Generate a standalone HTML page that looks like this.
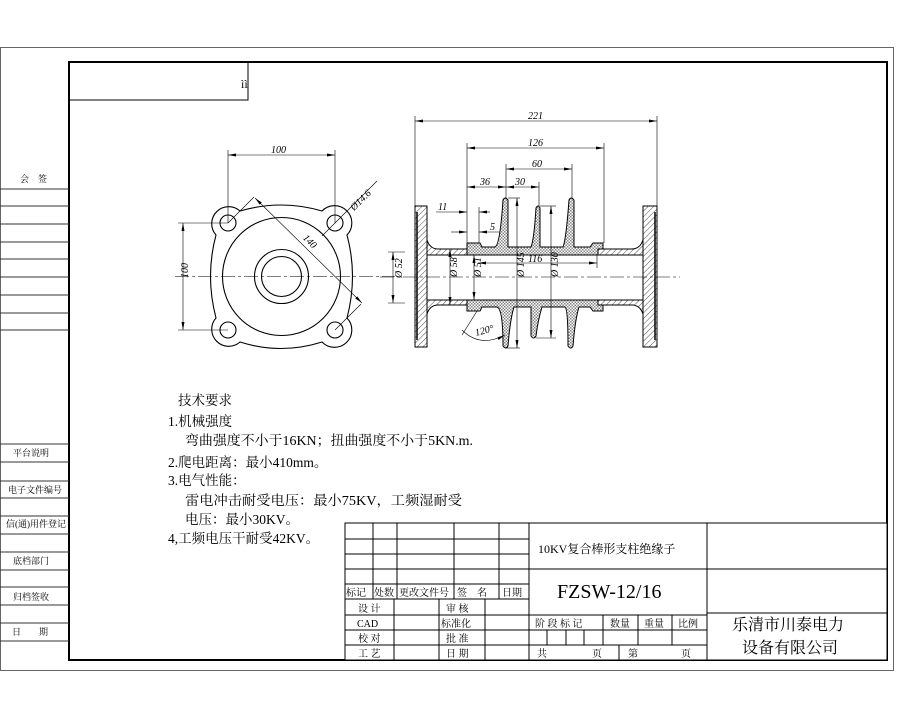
<!DOCTYPE html>
<html><head><meta charset="utf-8"><style>
html,body{margin:0;padding:0;background:#fff;}
svg{display:block;}
text{font-family:"Liberation Serif","Noto Serif CJK SC",serif;fill:#000;}
</style></head><body>
<svg width="900" height="720" viewBox="0 0 900 720" xmlns="http://www.w3.org/2000/svg">
<defs>
<pattern id="h" width="4" height="4" patternUnits="userSpaceOnUse" patternTransform="rotate(45)">
<rect width="4" height="4" fill="#fff"/><line x1="0" y1="0" x2="0" y2="4" stroke="#000" stroke-width="0.7"/></pattern>
<pattern id="x" width="3" height="3" patternUnits="userSpaceOnUse">
<rect width="3" height="3" fill="#fff"/><rect width="1.5" height="1.5" fill="#888"/><rect x="1.5" y="1.5" width="1.5" height="1.5" fill="#888"/></pattern>
<marker id="a" markerWidth="8" markerHeight="6" refX="8" refY="3" orient="auto-start-reverse" markerUnits="userSpaceOnUse"><path d="M0,1.5 L8,3 L0,4.5Z" fill="#000"/></marker>
</defs>
<rect x="0" y="0" width="900" height="720" fill="#fff"/>
<rect x="0.5" y="47.5" width="893" height="623" fill="none" stroke="#666" stroke-width="1"/>
<rect x="69" y="62" width="818" height="598" fill="none" stroke="#000" stroke-width="2"/>
<polyline points="69,100 248,100 248,62" fill="none" stroke="#000" stroke-width="1"/>
<text x="241" y="88" font-size="12">ìì</text>
<g stroke="#333" stroke-width="1">
<line x1="0" y1="189" x2="69" y2="189"/><line x1="0" y1="206" x2="69" y2="206"/>
<line x1="0" y1="224" x2="69" y2="224"/><line x1="0" y1="242" x2="69" y2="242"/>
<line x1="0" y1="259" x2="69" y2="259"/><line x1="0" y1="277" x2="69" y2="277"/>
<line x1="0" y1="295" x2="69" y2="295"/><line x1="0" y1="313" x2="69" y2="313"/>
<line x1="0" y1="330" x2="69" y2="330"/>
<line x1="0" y1="444" x2="69" y2="444"/><line x1="0" y1="462" x2="69" y2="462"/>
<line x1="0" y1="481" x2="69" y2="481"/><line x1="0" y1="498" x2="69" y2="498"/>
<line x1="0" y1="516" x2="69" y2="516"/><line x1="0" y1="534" x2="69" y2="534"/>
<line x1="0" y1="552" x2="69" y2="552"/><line x1="0" y1="570" x2="69" y2="570"/>
<line x1="0" y1="587" x2="69" y2="587"/><line x1="0" y1="605" x2="69" y2="605"/>
<line x1="0" y1="623" x2="69" y2="623"/><line x1="0" y1="641" x2="69" y2="641"/>
</g>
<g font-size="9">
<text x="20" y="182">会　签</text>
<text x="13" y="456">平台说明</text>
<text x="8" y="493">电子文件编号</text>
<text x="6" y="527">信(通)用件登记</text>
<text x="13" y="564">底档部门</text>
<text x="13" y="600">归档签收</text>
<text x="12" y="635">日　　期</text>
</g>

<g stroke="#000" fill="none" stroke-width="1.1">
<path d="M216,235 A17,17 0 0 1 240,211 Q281,199 322,211 A17,17 0 0 1 347,235 Q358,276 347,318 A17,17 0 0 1 322,342 Q281,355 240,342 A17,17 0 0 1 216,318 Q205,276 216,235 Z"/>
<circle cx="281.5" cy="276.5" r="59"/>
<circle cx="281.5" cy="276.5" r="27"/>
<circle cx="281.5" cy="276.5" r="20"/>
<circle cx="228" cy="223" r="8"/><circle cx="335" cy="223" r="8"/>
<circle cx="228" cy="330" r="8"/><circle cx="335" cy="330" r="8"/>
</g>
<g stroke="#000" stroke-width="0.6" fill="none">
<line x1="175" y1="276.5" x2="395" y2="276.5" stroke-dasharray="14,3,3,3"/>
<line x1="228" y1="223" x2="228" y2="150"/><line x1="335" y1="223" x2="335" y2="150"/>
<line x1="228" y1="155" x2="335" y2="155" marker-start="url(#a)" marker-end="url(#a)"/>
<line x1="228" y1="223" x2="178" y2="223"/><line x1="228" y1="330" x2="178" y2="330"/>
<line x1="183" y1="223" x2="183" y2="330" marker-start="url(#a)" marker-end="url(#a)"/>
<line x1="228" y1="223" x2="254" y2="197"/><line x1="335" y1="330" x2="361" y2="304"/>
<line x1="255" y1="198" x2="362" y2="303" marker-start="url(#a)" marker-end="url(#a)"/>
<line x1="322" y1="236" x2="377" y2="181"/>
<line x1="388" y1="252" x2="405" y2="252"/><line x1="388" y1="303" x2="405" y2="303"/>
<line x1="393" y1="252" x2="393" y2="303" marker-start="url(#a)" marker-end="url(#a)"/>
</g>
<g font-size="10" font-style="italic">
<text x="271" y="153">100</text>
<text x="181" y="285" transform="rotate(-90 181 278)">100</text>
<text x="300" y="244" transform="rotate(45 308 244)">140</text>
<text x="345" y="205" transform="rotate(-45 357 197)">Ø14.6</text>
<text x="390" y="290" transform="rotate(-90 390 278)">Ø 52</text>
</g>

<g stroke="#000" stroke-width="1">
<rect x="415" y="206" width="12" height="141" fill="url(#h)"/>
<rect x="643" y="206" width="14" height="141" fill="url(#h)"/>
<line x1="417" y1="212" x2="417" y2="340" stroke-width="1.5"/>
<line x1="655" y1="212" x2="655" y2="340" stroke-width="1.5"/>
<path d="M427,240 Q430,249 438,249 L632,249 Q640,249 643,240 L643,255 L427,255 Z" fill="url(#h)"/>
<path d="M427,314 Q430,305 438,305 L632,305 Q640,305 643,314 L643,300 L427,300 Z" fill="url(#h)"/>
<path d="M467,243 L480,243 L482,247 L495,247 Q500,245 503,200 Q505,196 508,200 L508,247 L531,247 Q534,240 536,208 Q538,204 540,208 L540,247 L563,247 Q566,240 569,200 Q571,196 574,200 L574,247 L590,247 L593,243 L603,243 L603,249 L598,249 L598,255 L467,255 Z" fill="url(#x)"/>
<path d="M467,311 L480,311 L482,307 L497,307 Q503,309 503,346 Q506,350 508,346 Q510,320 514,307 L531,307 L531,336 Q534,340 536,336 Q538,320 542,307 L565,307 Q568,309 568,346 Q571,350 573,346 Q575,320 579,307 L590,307 L593,311 L603,311 L603,305 L598,305 L598,300 L467,300 Z" fill="url(#x)"/>
<rect x="427" y="255" width="216" height="45" fill="#fff"/>
</g>
<g stroke="#000" stroke-width="0.6" fill="none">
<line x1="380" y1="277" x2="680" y2="277" stroke-dasharray="14,3,3,3"/>
<line x1="415" y1="206" x2="415" y2="116"/><line x1="657" y1="206" x2="657" y2="116"/>
<line x1="415" y1="121" x2="657" y2="121" marker-start="url(#a)" marker-end="url(#a)"/>
<line x1="467" y1="243" x2="467" y2="143"/><line x1="604" y1="243" x2="604" y2="143"/>
<line x1="467" y1="148" x2="604" y2="148" marker-start="url(#a)" marker-end="url(#a)"/>
<line x1="506" y1="198" x2="506" y2="164"/><line x1="572" y1="198" x2="572" y2="164"/>
<line x1="506" y1="169" x2="572" y2="169" marker-start="url(#a)" marker-end="url(#a)"/>
<line x1="539" y1="206" x2="539" y2="182"/>
<line x1="467" y1="187" x2="506" y2="187" marker-start="url(#a)" marker-end="url(#a)"/>
<line x1="506" y1="187" x2="539" y2="187" marker-start="url(#a)" marker-end="url(#a)"/>
<line x1="479" y1="243" x2="479" y2="207"/>
<line x1="436" y1="212" x2="467" y2="212" marker-end="url(#a)"/>
<line x1="479" y1="212" x2="490" y2="212" marker-start="url(#a)"/>
<line x1="451" y1="232" x2="467" y2="232" marker-end="url(#a)"/>
<line x1="479" y1="232" x2="500" y2="232" marker-start="url(#a)"/>
<line x1="478" y1="263" x2="597" y2="263" marker-start="url(#a)" marker-end="url(#a)"/>
<line x1="597" y1="255" x2="597" y2="268"/>
<line x1="445" y1="249" x2="465" y2="249"/><line x1="445" y1="305" x2="465" y2="305"/>
<line x1="450" y1="249" x2="450" y2="305" marker-start="url(#a)" marker-end="url(#a)"/>
<line x1="474" y1="255" x2="474" y2="300" marker-start="url(#a)" marker-end="url(#a)"/>
<line x1="517" y1="198" x2="517" y2="348" marker-start="url(#a)" marker-end="url(#a)"/>
<line x1="551" y1="206" x2="551" y2="338" marker-start="url(#a)" marker-end="url(#a)"/>
<line x1="508" y1="198" x2="520" y2="198"/><line x1="506" y1="348" x2="520" y2="348"/>
<line x1="540" y1="206" x2="556" y2="206"/><line x1="536" y1="338" x2="556" y2="338"/>
<line x1="477" y1="311" x2="462" y2="335"/>
<path d="M462,330 Q480,348 505,335" marker-end="url(#a)"/>
</g>
<g font-size="10" font-style="italic">
<text x="528" y="119">221</text>
<text x="528" y="146">126</text>
<text x="532" y="167">60</text>
<text x="480" y="185">36</text>
<text x="515" y="185">30</text>
<text x="438" y="210">11</text>
<text x="490" y="230">5</text>
<text x="528" y="262">116</text>
<text x="448" y="286" transform="rotate(-90 448 277)">Ø 58</text>
<text x="472" y="286" transform="rotate(-90 472 277)">Ø 51</text>
<text x="515" y="286" transform="rotate(-90 515 277)">Ø 145</text>
<text x="549" y="286" transform="rotate(-90 549 277)">Ø 130</text>
<text x="476" y="336" transform="rotate(-15 476 336)">120°</text>
</g>

<g font-size="13.5">
<text x="178" y="405">技术要求</text>
<text x="168" y="426">1.机械强度</text>
<text x="185" y="445" textLength="288" lengthAdjust="spacingAndGlyphs">弯曲强度不小于16KN；扭曲强度不小于5KN.m.</text>
<text x="168" y="467">2.爬电距离：最小410mm。</text>
<text x="168" y="485">3.电气性能：</text>
<text x="185" y="505" textLength="277" lengthAdjust="spacingAndGlyphs">雷电冲击耐受电压：最小75KV，工频湿耐受</text>
<text x="185" y="524">电压：最小30KV。</text>
<text x="168" y="543">4,工频电压干耐受42KV。</text>
</g>

<g stroke="#000" stroke-width="1" fill="none">
<rect x="345" y="523" width="542" height="137" fill="#fff"/>
<line x1="345" y1="539" x2="529" y2="539"/><line x1="345" y1="554" x2="529" y2="554"/>
<line x1="345" y1="569" x2="887" y2="569"/><line x1="345" y1="584" x2="529" y2="584"/>
<line x1="345" y1="599" x2="529" y2="599"/>
<line x1="345" y1="615" x2="529" y2="615"/><line x1="345" y1="630" x2="707" y2="630"/>
<line x1="345" y1="645" x2="707" y2="645"/>
<line x1="529" y1="615" x2="707" y2="615"/><line x1="707" y1="613" x2="887" y2="613"/>
<line x1="373" y1="523" x2="373" y2="599"/><line x1="397" y1="523" x2="397" y2="599"/>
<line x1="454" y1="523" x2="454" y2="599"/><line x1="499" y1="523" x2="499" y2="599"/>
<line x1="529" y1="523" x2="529" y2="660"/><line x1="707" y1="523" x2="707" y2="660"/>
<line x1="394" y1="599" x2="394" y2="660"/><line x1="439" y1="599" x2="439" y2="660"/>
<line x1="485" y1="599" x2="485" y2="660"/>
<line x1="603" y1="615" x2="603" y2="645"/><line x1="638" y1="615" x2="638" y2="645"/>
<line x1="672" y1="615" x2="672" y2="645"/>
<line x1="547" y1="630" x2="547" y2="645"/><line x1="566" y1="630" x2="566" y2="645"/>
<line x1="584" y1="630" x2="584" y2="645"/>
<line x1="619" y1="645" x2="619" y2="660"/>
</g>
<g font-size="10">
<text x="346" y="596">标记</text><text x="374" y="596">处数</text>
<text x="399" y="596">更改文件号</text><text x="457" y="596">签　名</text>
<text x="502" y="596">日期</text>
<text x="358" y="612">设 计</text><text x="446" y="612">审 核</text>
<text x="357" y="627">CAD</text><text x="441" y="627">标准化</text>
<text x="358" y="642">校 对</text><text x="446" y="642">批 准</text>
<text x="358" y="657">工 艺</text><text x="446" y="657">日 期</text>
<text x="535" y="627">阶 段 标 记</text><text x="610" y="627">数量</text>
<text x="644" y="627">重量</text><text x="678" y="627">比例</text>
<text x="537" y="657">共</text><text x="592" y="657">页</text>
<text x="628" y="657">第</text><text x="681" y="657">页</text>
</g>
<text x="538" y="553" font-size="12">10KV复合棒形支柱绝缘子</text>
<text x="557" y="598" font-size="20">FZSW-12/16</text>
<text x="732" y="630" font-size="16" font-family="Liberation Sans,Noto Sans CJK SC,sans-serif">乐清市川泰电力</text>
<text x="742" y="653" font-size="16" font-family="Liberation Sans,Noto Sans CJK SC,sans-serif">设备有限公司</text>
</svg>
</body></html>
